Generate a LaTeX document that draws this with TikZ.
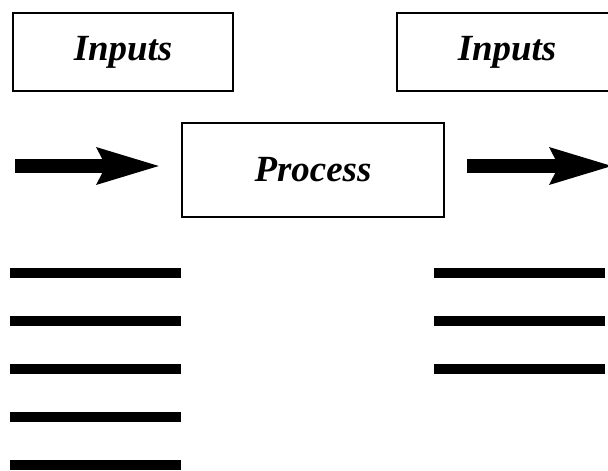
\documentclass[tikz,border=0pt]{standalone}
\usepackage{fontspec}
\setmainfont{Liberation Serif}
\usetikzlibrary{arrows.meta}

\begin{document}
\begin{tikzpicture}[x=0.02cm,y=-0.02cm,
  block/.style={draw,line width=0.04cm,inner sep=0pt,font=\fontsize{21}{24}\selectfont\bfseries\itshape},
  bigarrow/.style={line width=0.28cm,-{Stealth[length=1.24cm,width=0.68cm,inset=0.14cm]}},
  bar/.style={line width=0.2cm}]
\useasboundingbox (0,0) rectangle (608,470);
\clip (0,0) rectangle (608,470);
\node[block,minimum width=4.4cm,minimum height=1.56cm] (inleft) at (123,52) {Inputs};
\node[block,minimum width=4.4cm,minimum height=1.56cm] (inright) at (507,52) {Inputs};
\node[block,minimum width=5.26cm,minimum height=1.9cm] (proc) at (313,170) {Process};
\coordinate (src) at (15,166);
\coordinate (sink) at (614,166);
\draw[bigarrow,shorten >=0.39cm] (src) -- (src -| proc.west);
\draw[bigarrow,shorten <=0.44cm] (src -| proc.east) -- (sink);
\foreach \y in {273,321,369,417,465}
  \draw[bar] (10,\y) -- (181,\y);
\foreach \y in {273,321,369}
  \draw[bar] (434,\y) -- (605,\y);
\end{tikzpicture}
\end{document}
